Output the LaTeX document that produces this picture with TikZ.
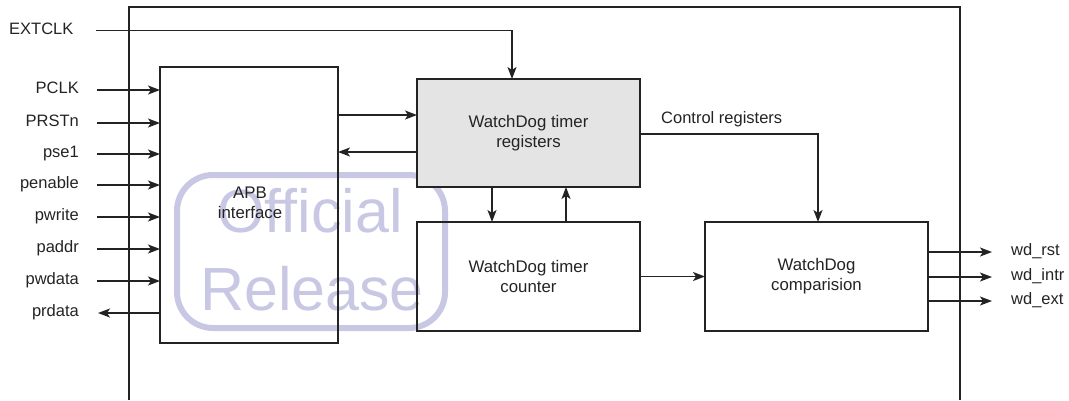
\documentclass[tikz,border=0pt]{standalone}
\usepackage{fontspec}
\setmainfont{Liberation Sans}
\usetikzlibrary{arrows.meta}
\definecolor{wmark}{RGB}{200,200,228}
\definecolor{ink}{RGB}{35,35,35}
\definecolor{regfill}{RGB}{228,228,228}
\tikzset{
  box/.style={draw=ink, line width=1.5pt, inner sep=0pt, outer sep=0pt},
  lbl/.style={inner sep=0pt, font=\fontsize{16.5}{19}\selectfont, text=ink, text height=0.716em, text depth=0pt},
  txt/.style={inner sep=0pt, font=\fontsize{16.8}{20}\selectfont, text=ink, align=center},
  conn/.style={draw=ink, line width=1.6pt},
  arr/.style={conn, -{Stealth[length=12pt,width=9pt,inset=3pt]}},
  wm/.style={inner sep=0pt, text=wmark, font=\fontsize{61}{62}\selectfont, anchor=base},
}
\begin{document}
\begin{tikzpicture}[x=1pt,y=-1pt]
\useasboundingbox (0,0) rectangle (1069,400);
% watermark
\draw[wmark, line width=6pt, rounded corners=36pt] (177,175) rectangle (445,328);
\node[wm] (wm1) at (310,232) {Official};
\node[wm] (wm2) at (312,310) {Release};
% outer frame
\draw[conn] (129,400) -- (129,7) -- (960,7) -- (960,400);
% blocks
\node[box, minimum width=178pt, minimum height=276pt] (apb) at (249,205) {};
\node[txt] (apbt) at (250,203) {APB\\interface};
\node[box, fill=regfill, minimum width=223pt, minimum height=108pt, txt] (reg) at (528.5,133) {WatchDog timer\\registers};
\node[box, minimum width=223pt, minimum height=109pt, txt] (cnt) at (528.5,276.5) {WatchDog timer\\counter};
\node[box, minimum width=223pt, minimum height=109pt, txt] (cmp) at (816.5,276.5) {WatchDog\\comparision};
% EXTCLK
\node[lbl, anchor=west] (ext) at (9,30.5) {EXTCLK};
\coordinate (extc) at (512,30.5);
\draw[arr] ([xshift=22pt]ext.east) -- (extc) -- (extc |- reg.north);
% APB inputs
\foreach \n/\t/\y in {pclk/PCLK/90, prst/PRSTn/123, psel/pse1/154, pen/penable/185, pwr/pwrite/217, padr/paddr/249, pwd/pwdata/281}{
  \node[lbl, anchor=east] (\n) at (79,\y) {\t};
  \draw[arr] ([xshift=18pt]\n.east) -- (\n.east -| apb.west);
}
\node[lbl, anchor=east] (prd) at (79,313) {prdata};
\draw[arr] (prd.east -| apb.west) -- ([xshift=19pt]prd.east);
% APB <-> registers
\draw[arr] (apb.east |- 0,115) -- (reg.west |- 0,115);
\draw[arr] (reg.west |- 0,152) -- (apb.east |- 0,152);
% registers <-> counter
\draw[arr] (reg.south -| 492,0) -- (cnt.north -| 492,0);
\draw[arr] (cnt.north -| 566,0) -- (reg.south -| 566,0);
% control registers
\coordinate (ctl) at (818,134);
\draw[arr] (reg.east |- ctl) -- (ctl) -- (ctl |- cmp.north);
\node[lbl, anchor=west] (ctlt) at (661,120) {Control registers};
% counter -> comparison
\draw[arr] (cnt.east) -- (cmp.west);
% outputs
\foreach \n/\t/\y in {rst/wd\_rst/252, intr/wd\_intr/277, wext/wd\_ext/301}{
  \node[lbl, anchor=west] (\n) at (1011,\y) {\t};
  \draw[arr] (cmp.east |- \n.west) -- ([xshift=-19pt]\n.west);
}
\end{tikzpicture}
\end{document}
